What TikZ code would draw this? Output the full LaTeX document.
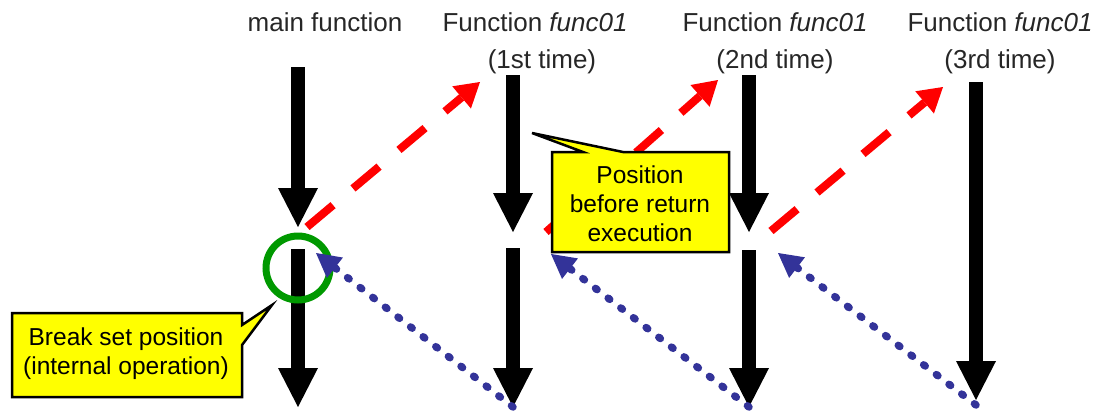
\documentclass[tikz,border=0pt]{standalone}
\usepackage{fontspec}
\setmainfont{Liberation Sans}
\usetikzlibrary{arrows.meta}
\definecolor{dotblue}{RGB}{51,51,153}
\definecolor{circgreen}{RGB}{0,153,0}
\definecolor{noteyellow}{RGB}{255,255,0}
\begin{document}
\begin{tikzpicture}[x=1pt,y=-1pt,
  flow/.style={line width=14pt,-{Triangle[length=39pt,width=40pt,line width=0pt]}},
  callarrow/.style={red,line width=8pt,dash pattern=on 34pt off 26pt,-{Triangle[length=24pt,width=29pt,line width=0pt]}},
  retarrow/.style={dotblue,line width=7.5pt,line cap=round,dash pattern=on 2pt off 14pt,-{Triangle[length=24pt,width=26pt,line width=0pt]}},
  lbl/.style={font=\fontsize{26}{30}\selectfont,inner sep=0pt,text=black!85},
  notebox/.style={fill=noteyellow,draw=black,line width=2.5pt,line join=miter},
  notetext/.style={font=\fontsize{24.5}{29}\selectfont,align=center,inner sep=0pt}]
\useasboundingbox (0,0) rectangle (1115,410);
% column coordinates
\coordinate (m1s) at (298,67);  \coordinate (m1e) at (298,227);
\coordinate (m2s) at (298,249); \coordinate (m2e) at (298,407);
\coordinate (a1s) at (513,75);  \coordinate (a1e) at (513,232);
\coordinate (a2s) at (513,248); \coordinate (a2e) at (513,407);
\coordinate (b1s) at (749,75);  \coordinate (b1e) at (749,232);
\coordinate (b2s) at (749,250); \coordinate (b2e) at (749,407);
\coordinate (c1s) at (976,82);  \coordinate (c1e) at (976,400);
% call / return end points
\coordinate (r1s) at (307,227); \coordinate (r1e) at (480,82);
\coordinate (r2s) at (546,232); \coordinate (r2e) at (718,80);
\coordinate (r3s) at (771,231); \coordinate (r3e) at (943,87);
\coordinate (u1e) at (316,253);
\coordinate (u2e) at (551,254);
\coordinate (u3s) at (976,405); \coordinate (u3e) at (778,253);
% labels
\node[lbl] (tmain) at (325,22) {main function};
\node[lbl] (tf1) at (535,22) {Function \textit{func01}};
\node[lbl] (tt1) at (542,62) {(1st time)};
\node[lbl] (tf2) at (775,22) {Function \textit{func01}};
\node[lbl] (tt2) at (775,62) {(2nd time)};
\node[lbl] (tf3) at (1000,22) {Function \textit{func01}};
\node[lbl] (tt3) at (1000,62) {(3rd time)};
% flow arrows
\draw[flow] (m1s) -- (m1e);
\draw[flow] (m2s) -- (m2e);
\draw[flow] (a1s) -- (a1e);
\draw[flow] (a2s) -- (a2e);
\draw[flow] (b1s) -- (b1e);
\draw[flow] (b2s) -- (b2e);
\draw[flow] (c1s) -- (c1e);
% calls
\draw[callarrow] (r1s) -- (r1e);
\draw[callarrow] (r2s) -- (r2e);
\draw[callarrow] (r3s) -- (r3e);
% break circle
\node[circle,draw=circgreen,line width=7pt,minimum size=64pt,inner sep=0pt] (brk) at (298,268) {};
% returns
\draw[retarrow] (a2e) -- (u1e);
\draw[retarrow] (b2e) -- (u2e);
\draw[retarrow] (u3s) -- (u3e);
% callouts
\draw[notebox] (12,313) -- (242,313) -- (242,325) -- (272,305) -- (242,345) -- (242,397) -- (12,397) -- cycle;
\node[notetext] (n1) at (126,354) {Break set position\\(internal operation)};
\draw[notebox] (552,152) -- (583,152) -- (532,133) -- (623,152) -- (729,152) -- (729,252) -- (552,252) -- cycle;
\node[notetext] (n2) at (640,204) {Position\\before return\\execution};
\end{tikzpicture}
\end{document}
